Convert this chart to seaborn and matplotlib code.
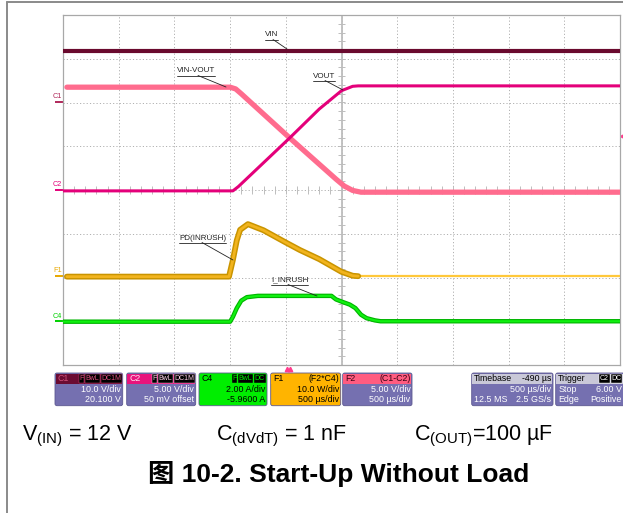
"""
    scope capture: start-up without load
"""

import numpy as np
import pandas as pd
import matplotlib
matplotlib.use("Agg")
import matplotlib.pyplot as plt
import seaborn as sns
from matplotlib.patches import FancyBboxPatch, Rectangle
from matplotlib.lines import Line2D

W, H = 623, 513

# traces: x in divisions (500 us/div), y in screen divisions (0 = bottom)
vin_t = [0.0, 10.0]
vin_v = [7.18, 7.18]

vinvout_t = [0.07, 3.0, 3.1, 3.2, 4.07, 4.9, 5.05, 5.2, 5.35, 10.0]
vinvout_v = [6.35, 6.35, 6.31, 6.2, 5.19, 4.25, 4.09, 3.99, 3.95, 3.95]

vout_t = [0.0, 3.05, 3.15, 4.07, 4.6, 5.0, 5.2, 5.3, 10.0]
vout_v = [3.98, 3.98, 4.08, 5.19, 5.85, 6.27, 6.37, 6.38, 6.38]

pd_t = [0.07, 2.98, 3.05, 3.12, 3.18, 3.32, 3.6, 4.0, 4.25, 4.6, 5.0, 5.2, 5.3]
pd_v = [2.02, 2.02, 2.4, 2.85, 3.09, 3.22, 3.08, 2.8, 2.63, 2.42, 2.13, 2.04, 2.03]
pd_tail_t = [5.3, 10.0]
pd_tail_v = [2.03, 2.03]

iin_t = [0.0, 3.0, 3.05, 3.12, 3.2, 3.3, 3.5, 4.82, 4.9, 5.0, 5.15, 5.25,
         5.35, 5.45, 5.6, 5.7, 10.0]
iin_v = [0.99, 0.99, 1.1, 1.3, 1.47, 1.55, 1.58, 1.58, 1.5, 1.45, 1.38, 1.3,
         1.15, 1.07, 1.02, 1.0, 1.0]

# channel info boxes
box_names = ["C1", "C2", "C4", "F1", "F2", "Timebase", "Trigger"]
box_right = ["", "", "", "(F2*C4)", "(C1-C2)", "-490 µs", ""]
box_line1 = ["10.0 V/div", "5.00 V/div", "2.00 A/div", "10.0 W/div",
             "5.00 V/div", "500 µs/div", "6.00 V"]
box_line2 = ["20.100 V", "50 mV offset", "-5.9600 A", "500 µs/div",
             "500 µs/div", "2.5 GS/s", "Positive"]
box_left1 = ["", "", "", "", "", "", "Stop"]
box_left2 = ["", "", "", "", "", "12.5 MS", "Edge"]

captions = [r"V$_{\mathregular{(IN)}}$ = 12 V",
            r"C$_{\mathregular{(dVdT)}}$ = 1 nF",
            r"C$_{\mathregular{(OUT)}}$=100 µF"]
title = "图 10-2. Start-Up Without Load"

sns.set_theme(style="white")
plt.rcParams["font.family"] = ["Liberation Sans", "Noto Sans CJK SC", "DejaVu Sans"]
plt.rcParams["mathtext.fontset"] = "custom"
plt.rcParams["mathtext.rm"] = "Liberation Sans"

fig = plt.figure(figsize=(W / 100, H / 100), dpi=100)
fig.patch.set_facecolor("white")

# overlay in pixel coordinates
ov = fig.add_axes([0, 0, 1, 1], zorder=0)
ov.set_xlim(0, W)
ov.set_ylim(H, 0)
ov.axis("off")

ax = fig.add_axes([63 / W, 1 - 365 / H, 557 / W, 350 / H], zorder=1)
ax.set_xlim(0, 10)
ax.set_ylim(0, 8)
ax.set_xticks(range(11))
ax.set_yticks(range(9))
ax.tick_params(length=0, labelbottom=False, labelleft=False)
ax.grid(True, color="#B0B0B0", linestyle=(0, (1.2, 2.2)), linewidth=0.7)
for s in ax.spines.values():
    s.set_color("#A8A8A8")
    s.set_linewidth(0.9)
ax.axvline(5, color="#BDBDBD", lw=1.3, zorder=1)
ax.hlines(np.arange(0.2, 8, 0.2), 4.93, 5.07, color="#BDBDBD", lw=0.7, zorder=1)
ax.vlines(np.arange(0.2, 10, 0.2), 3.91, 4.09, color="#BDBDBD", lw=0.7, zorder=1)

# traces
sns.lineplot(x=vin_t, y=vin_v, ax=ax, color="#6A0A2E", lw=3.0, zorder=3)
sns.lineplot(x=iin_t, y=iin_v, ax=ax, color="#00B400", lw=3.2, sort=False,
             estimator=None, zorder=3)
sns.lineplot(x=iin_t, y=iin_v, ax=ax, color="#10F010", lw=1.6, sort=False,
             estimator=None, zorder=3)
sns.lineplot(x=pd_tail_t, y=pd_tail_v, ax=ax, color="#FFC83A", lw=1.6, zorder=3)
sns.lineplot(x=pd_t, y=pd_v, ax=ax, color="#C99400", lw=4.2, sort=False,
             estimator=None, zorder=3)
sns.lineplot(x=pd_t, y=pd_v, ax=ax, color="#F2B41E", lw=2.0, sort=False,
             estimator=None, zorder=3)
sns.lineplot(x=vinvout_t, y=vinvout_v, ax=ax, color="#FF6C8E", lw=3.8,
             sort=False, estimator=None, zorder=4)
sns.lineplot(x=vout_t, y=vout_v, ax=ax, color="#E4007A", lw=2.2, sort=False,
             estimator=None, zorder=4)


def to_data(px, py):
    return (px - 63) / 55.7, (365 - py) / 43.75


# trace labels with underline and leader
labels = [("VIN", (265, 35), (287, 49), (273, 40)),
          ("VIN-VOUT", (177, 71), (226, 87), (198, 75)),
          ("VOUT", (313, 76), (343, 90), (325, 80)),
          ("PD(INRUSH)", (179, 238), (233, 260), (202, 242)),
          ("I_INRUSH", (271, 280), (317, 296), (288, 285))]
fig.canvas.draw()
for txt, tpos, tip, start in labels:
    t = ax.text(*to_data(*tpos), txt, fontsize=5.8, color="#222222",
                va="center", ha="left", zorder=6)
    bb = t.get_window_extent(renderer=fig.canvas.get_renderer())
    bb = bb.transformed(ax.transData.inverted())
    uy = to_data(0, tpos[1] + 4.5)[1]
    ax.plot([bb.x0, bb.x1], [uy, uy], color="#222222", lw=0.6, zorder=6)
    ax.plot([to_data(*start)[0], to_data(*tip)[0]],
            [uy, to_data(*tip)[1]], color="#222222", lw=0.6, zorder=6)

# channel markers on the left
markers = [("C1", 102, "#B0285A"), ("C2", 190, "#E4007A"),
           ("F1", 276, "#E8A800"), ("C4", 321, "#00D000")]
for name, py, col in markers:
    ov.text(53, py - 1.5, name, fontsize=5.2, color=col, ha="left", va="bottom")
    ov.plot([55, 63], [py, py], color=col, lw=1.4, solid_capstyle="butt")
ov.plot([286.5, 290], [368.5, 368.5], ls="none", marker="^", ms=3.2,
        color="#FF3C8C")
ov.plot([622], [136], ls="none", marker="<", ms=3, color="#FF3C8C")

# outer frame
ov.add_line(Line2D([7, 7], [1.5, H], color="#8A8A8A", lw=1.4))
ov.add_line(Line2D([7, W], [1.5, 1.5], color="#8A8A8A", lw=1.4))

# info boxes
box_x = [(55, 122.7), (126.7, 195.7), (199, 267), (270.7, 340.7),
         (342.7, 412), (471.7, 553), (555.7, 630)]
head_col = ["#6B0B32", "#E8147C", "#00EE00", "#FFB400", "#FF5C80",
            "#C9C8D8", "#C9C8D8"]
body_col = ["#7570B0", "#7570B0", "#00EE00", "#FFB400", "#7570B0",
            "#7570B0", "#7570B0"]
name_col = ["#D0507A", "#FFE0F0", "black", "black", "#3A0012", "black", "black"]
body_txt = ["white", "white", "black", "black", "white", "white", "white"]
chips = [[("F", 5.5), ("BwL", 14.5), ("DC1M", 21)],
         [("F", 5.5), ("BwL", 14.5), ("DC1M", 21)],
         [("F", 5.5), ("BwL", 14.5), ("DC", 12)],
         [], [], [],
         [("C2", 11), ("DC", 11)]]
chip_txt = ["#E05080", "#FFD0E8", "#00EE00", "", "", "", "white"]
y0, yh, y1 = 373, 384, 405.7
for i, (xa, xb) in enumerate(box_x):
    ov.add_patch(FancyBboxPatch((xa, y0), xb - xa, y1 - y0,
                                boxstyle="round,pad=0,rounding_size=2",
                                fc=body_col[i], ec="#5C5890", lw=0.6))
    ov.add_patch(Rectangle((xa + 0.6, y0 + 0.6), xb - xa - 1.2, yh - y0 - 0.6,
                           fc=head_col[i], ec="none"))
    ov.text(xa + 2.5, (y0 + yh) / 2 + 0.3, box_names[i], fontsize=6.3,
            color=name_col[i], ha="left", va="center")
    if box_right[i]:
        ov.text(xb - 1.5, (y0 + yh) / 2 + 0.3, box_right[i], fontsize=6.3,
                color=name_col[i], ha="right", va="center")
    cx = min(xb, W) - 1.2
    for lab, w in reversed(chips[i]):
        ov.add_patch(Rectangle((cx - w, y0 + 1.2), w, yh - y0 - 2.2,
                               fc="black", ec=chip_txt[i], lw=0.3))
        ov.text(cx - w / 2, (y0 + yh) / 2 + 0.4, lab, fontsize=5.0,
                color=chip_txt[i], ha="center", va="center")
        cx -= w + 1.0
    xr = min(xb, W) - 1.5
    ov.text(xr, 389.5, box_line1[i], fontsize=6.4, color=body_txt[i],
            ha="right", va="center")
    ov.text(xr, 400, box_line2[i], fontsize=6.4, color=body_txt[i],
            ha="right", va="center")
    if box_left1[i]:
        ov.text(xa + 2.5, 389.5, box_left1[i], fontsize=6.4, color="white",
                ha="left", va="center")
    if box_left2[i]:
        ov.text(xa + 2.5, 400, box_left2[i], fontsize=6.4, color="white",
                ha="left", va="center")

# conditions and caption
for x, txt in zip([22, 216, 414], captions):
    ov.text(x, 440, txt, fontsize=15.5, color="black", ha="left",
            va="baseline")
ov.text(339, 474, title, fontsize=19, fontweight="bold", color="black",
        ha="center", va="center")

fig.savefig("out.png", dpi=100)
